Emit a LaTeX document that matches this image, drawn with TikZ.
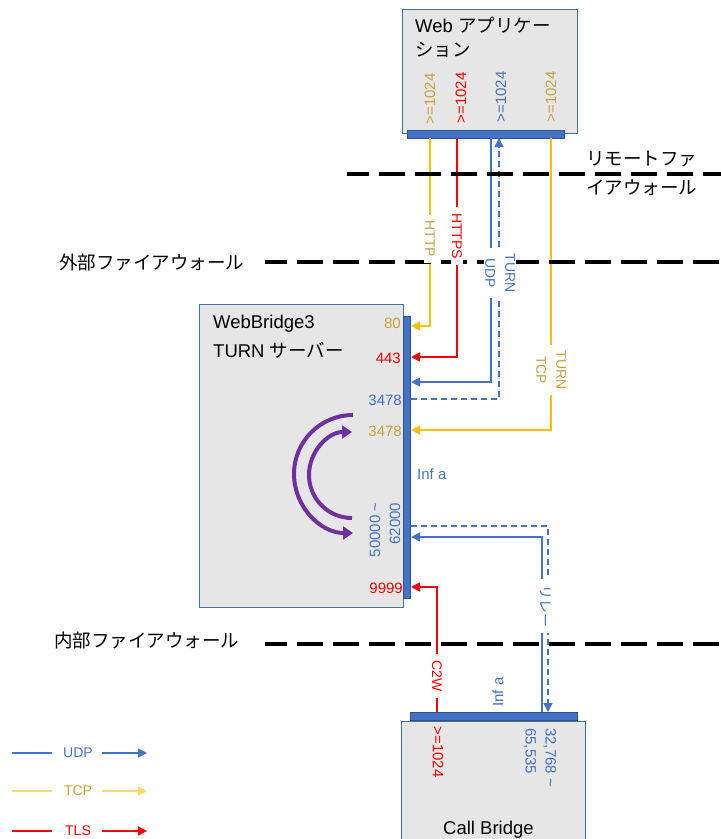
\documentclass[tikz,border=0pt]{standalone}
\usepackage{fontspec}
\setmainfont{Liberation Sans}
\newfontfamily\jp{Noto Sans CJK JP}
\usetikzlibrary{arrows.meta}
\definecolor{udp}{HTML}{4472C4}
\definecolor{tcp}{HTML}{FFC000}
\definecolor{tcplite}{HTML}{FFD966}
\definecolor{tcptxt}{HTML}{C9A23F}
\definecolor{tls}{HTML}{FF0000}
\definecolor{boxfill}{HTML}{E7E6E6}
\definecolor{boxline}{HTML}{41719C}
\definecolor{barfill}{HTML}{4472C4}
\definecolor{barline}{HTML}{2F528F}
\definecolor{purp}{HTML}{7030A0}
\tikzset{
  box/.style={draw=boxline, fill=boxfill, line width=1.3pt, inner sep=0pt, anchor=north west},
  bar/.style={draw=barline, fill=barfill, line width=0.8pt, inner sep=0pt, anchor=north west},
  big/.style={font=\fontsize{18.5}{23}\selectfont, inner sep=0pt},
  port/.style={font=\fontsize{15}{20}\selectfont, inner sep=0pt},
  lbl/.style={font=\fontsize{14}{20}\selectfont, fill=white, inner xsep=6pt, inner ysep=1pt},
  leg/.style={font=\fontsize{14}{17}\selectfont, inner sep=0pt},
  conn/.style={line width=1.5pt},
  tip/.style={-{Triangle[length=9pt,width=9pt]}},
  dsh/.style={dash pattern=on 6pt off 4pt},
  fw/.style={line width=4pt, dash pattern=on 26pt off 10pt, dash phase=4pt},
  arcp/.style={draw=purp, line width=4pt, -{Triangle[length=10pt,width=13pt]}}
}
\begin{document}
\begin{tikzpicture}[x=1pt,y=-1pt]
\useasboundingbox (0,0) rectangle (721,839);
\clip (0,0) rectangle (721,839);
% boxes
\node[box, minimum width=175pt, minimum height=124pt] (webapp) at (402,9) {};
\node[box, minimum width=204pt, minimum height=303pt] (wb) at (199,304) {};
\node[box, minimum width=184pt, minimum height=140pt] (cb) at (401,721) {};
% bars
\node[bar, minimum width=157pt, minimum height=8pt] (webbar) at (407,130) {};
\node[bar, minimum width=7pt, minimum height=282pt] (wbbar) at (403,316) {};
\node[bar, minimum width=167pt, minimum height=8pt] (cbbar) at (410,712) {};
% titles
\node[big, anchor=base west] (t1) at (415,32) {Web {\jp アプリケー}};
\node[big, anchor=base west] (t2) at (415,56) {\jp ション};
\node[big, anchor=base west] (t3) at (213,328) {WebBridge3};
\node[big, anchor=base west] (t4) at (213,357) {TURN {\jp サーバー}};
\node[big, anchor=base west] (t5) at (443,834) {Call Bridge};
% web app port labels
\node[port, text=tcptxt, rotate=90] (w1) at (430,99) {>=1024};
\node[port, text=tls, rotate=90] (w2) at (461,98) {>=1024};
\node[port, text=udp, rotate=90] (w3) at (501,97) {>=1024};
\node[port, text=tcptxt, rotate=90] (w4) at (551,97) {>=1024};
% webbridge port labels
\node[port, text=tcptxt, anchor=east] (p80) at (401,323) {80};
\node[port, text=tls, anchor=east] (p443) at (401,358) {443};
\node[port, text=udp, anchor=east] (p3478u) at (402,400) {3478};
\node[port, text=tcptxt, anchor=east] (p3478t) at (402,431) {3478};
\node[port, text=tls, anchor=east] (p9999) at (403,588) {9999};
\node[port, text=udp, rotate=90, align=right] (prange) at (385,530) {50000 \textasciitilde\\62000};
\node[port, text=udp, anchor=west] (infa1) at (417,474) {Inf a};
% call bridge labels
\node[port, text=tls, rotate=-90] (c1) at (438,752) {>=1024};
\node[port, text=udp, rotate=-90, anchor=west, align=left] (crange) at (540,728) {32,768 \textasciitilde\\65,535};
\node[port, text=udp, rotate=90] (infa2) at (498,692) {Inf a};
% connector coordinates
\coordinate (a80) at (411,326);
\coordinate (a443) at (411,357);
\coordinate (a3478u) at (411,382);
\coordinate (d3478u) at (411,399);
\coordinate (a3478t) at (411,430);
\coordinate (arel) at (411,537);
\coordinate (drel) at (411,526);
\coordinate (a9999) at (411,587);
\coordinate (bHTTP) at (430,138);
\coordinate (bHTTPS) at (457,138);
\coordinate (bUDP) at (491,138);
\coordinate (bUDPd) at (499,138);
\coordinate (bTCP) at (551,138);
\coordinate (cREL) at (542,712);
\coordinate (cRELd) at (548,712);
\coordinate (cC2W) at (437,712);
% connectors
\draw[conn, tcp, tip] (bHTTP) |- (a80);
\draw[conn, tls, tip] (bHTTPS) |- (a443);
\draw[conn, udp, tip] (bUDP) |- (a3478u);
\draw[conn, udp, dsh, tip] (d3478u) -| (bUDPd);
\draw[conn, tcp, tip] (bTCP) |- (a3478t);
\draw[conn, udp, tip] (cREL) |- (arel);
\draw[conn, udp, dsh, tip] (drel) -| (cRELd);
\draw[conn, tls, tip] (cC2W) |- (a9999);
% firewalls
\draw[fw] (347,174) -- (721,174);
\draw[fw] (265,262) -- (721,262);
\draw[fw] (265,644) -- (721,644);
\node[big, anchor=base west] (fw1a) at (586,165) {\jp リモートファ};
\node[big, anchor=base west] (fw1b) at (586,194) {\jp イアウォール};
\node[big, anchor=base west] (fw2) at (59,269) {\jp 外部ファイアウォール};
\node[big, anchor=base west] (fw3) at (54,647) {\jp 内部ファイアウォール};
% connector labels
\node[lbl, text=tcptxt, rotate=-90] (lHTTP) at (430,239) {HTTP};
\node[lbl, text=tls, rotate=-90] (lHTTPS) at (457,236) {HTTPS};
\node[lbl, text=udp, rotate=-90, align=center] (lUDP) at (500,273) {TURN\\UDP};
\node[lbl, text=tcptxt, rotate=-90, align=center] (lTCP) at (551,370) {TURN\\TCP};
\node[lbl, text=udp, rotate=-90] (lREL) at (546,606) {\jp リレー};
\node[lbl, text=tls, rotate=-90] (lC2W) at (437,676) {C2W};
% purple arcs
\draw[arcp] (353,415) arc[start angle=270, end angle=90, radius=59];
\draw[arcp] (352,518) arc[start angle=90, end angle=270, radius=43];
% legend
\coordinate (u1) at (12,753); \coordinate (u2) at (52,753);
\coordinate (u3) at (102,753); \coordinate (u4) at (147,753);
\coordinate (k1) at (12,791); \coordinate (k2) at (52,791);
\coordinate (k3) at (102,791); \coordinate (k4) at (147,791);
\coordinate (s1) at (12,831); \coordinate (s2) at (52,831);
\coordinate (s3) at (102,831); \coordinate (s4) at (147,831);
\draw[conn, udp] (u1) -- (u2);
\draw[conn, udp, tip] (u3) -- (u4);
\node[leg, text=udp] (lgU) at (78,753) {UDP};
\draw[conn, tcplite] (k1) -- (k2);
\draw[conn, tcplite, tip] (k3) -- (k4);
\node[leg, text=tcptxt] (lgT) at (78,791) {TCP};
\draw[conn, tls] (s1) -- (s2);
\draw[conn, tls, tip] (s3) -- (s4);
\node[leg, text=tls] (lgS) at (78,831) {TLS};
\end{tikzpicture}
\end{document}
